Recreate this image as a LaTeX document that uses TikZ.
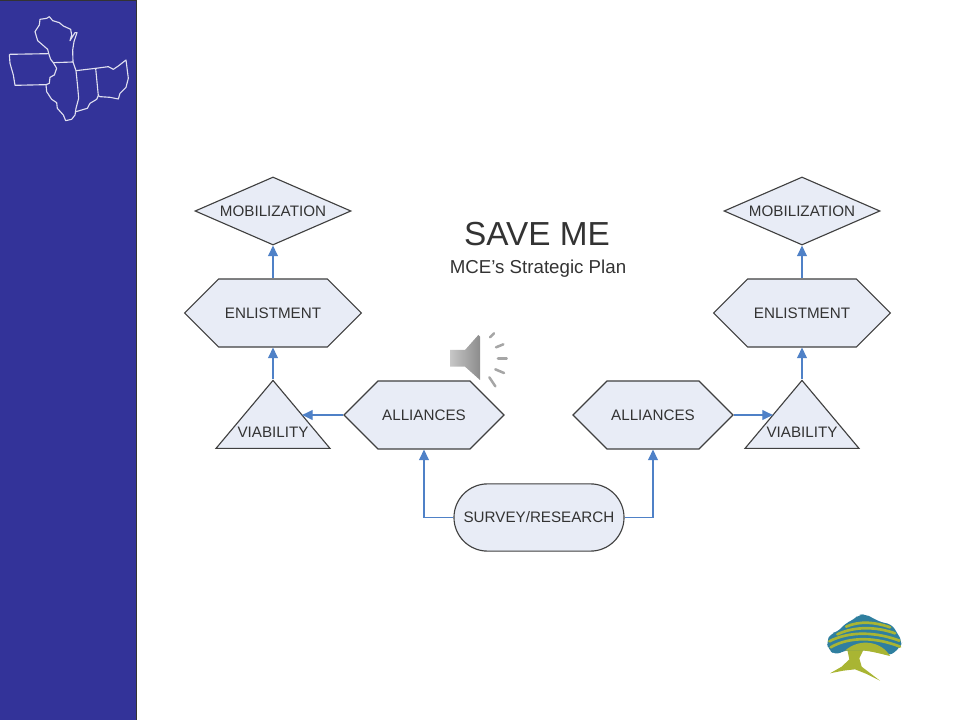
\documentclass[tikz,border=0pt]{standalone}
\usepackage{fontspec}
\setmainfont{Liberation Sans}
\usetikzlibrary{shapes.geometric,shapes.misc,shapes.symbols,arrows.meta}
\definecolor{sidebar}{HTML}{333399}
\definecolor{shapefill}{HTML}{E8ECF6}
\definecolor{shapeline}{HTML}{404040}
\definecolor{linkblue}{HTML}{4F81C7}
\definecolor{treeblue}{HTML}{2F7F9F}
\definecolor{treegreen}{HTML}{A9B533}
\tikzset{
  every node/.style={font=\fontsize{10.8}{12}\selectfont,text=black!80},
  shapebox/.style={draw=shapeline,fill=shapefill,line width=0.8pt,inner sep=0pt},
  mobbox/.style={shapebox,diamond,aspect=2.29,minimum width=3.9cm,minimum height=1.7cm},
  hexbox/.style={shapebox,signal,signal to=east and west,signal pointer angle=90,minimum height=1.7cm},
  tribox/.style={shapebox,isosceles triangle,isosceles triangle stretches,shape border rotate=90,
    anchor=lower side,minimum width=2.85cm,minimum height=1.7cm},
  pillbox/.style={shapebox,rounded rectangle,minimum width=4.25cm,minimum height=1.68cm},
  link/.style={draw=linkblue,line width=0.85pt,-{Triangle[length=7.5pt,width=7pt]}},
  mapline/.style={draw=white!85!sidebar,line width=0.8pt,line join=round},
  tick/.style={draw=black!35,line width=1.8pt,line cap=round},
  treeband/.style={draw=treegreen,line width=1.9pt,line cap=round}
}
\begin{document}
\begin{tikzpicture}[x=0.025cm,y=-0.025cm]
  \useasboundingbox (0,0) rectangle (960,720);
  % sidebar
  \fill[sidebar] (0,0) rectangle (136,720);
  \draw[black!80,line width=0.7pt] (136,0) -- (136,720);
  \draw[black!80,line width=0.7pt] (0,0.3) -- (136,0.3);
  % map
  \begin{scope}[scale=1/3]
    \draw[mapline] (160,188) -- (152,178) -- (146,160) -- (143,148) -- (128,135) -- (113,122) -- (105,95) -- (118,75) -- (120,58) -- (140,55) -- (148,50) -- (158,62) -- (178,68) -- (190,78) -- (212,88) -- (215,105) -- (210,122) -- (225,98) -- (231,98) -- (222,125) -- (218,150) -- (219,186) -- cycle;
    \draw[mapline] (28,163) -- (146,161) (160,188) -- (170,205) -- (163,225) -- (150,232) -- (148,250) -- (138,254) -- (45,256) -- (40,225) -- (30,190) -- (28,163);
    \draw[mapline] (219,186) -- (228,212) -- (233,260) -- (236,295) -- (228,325) -- (225,345) -- (215,358) -- (197,362) -- (190,345) -- (172,325) -- (170,308) -- (155,298) -- (140,275) -- (138,254);
    \draw[mapline] (228,212) -- (287,205) -- (295,287) -- (290,298) -- (270,310) -- (262,325) -- (245,330) -- (228,335);
    \draw[mapline] (287,205) -- (325,200) -- (340,208) -- (355,198) -- (378,180) -- (385,235) -- (378,262) -- (360,280) -- (355,297) -- (330,292) -- (300,290) -- (295,287);
  \end{scope}
  % tree
  \begin{scope}[shift={(810,600)},scale=1/3]
    \fill[treegreen] (112,150) -- (160,150) -- (148,175) -- (155,200) -- (210,242) -- (170,222) -- (135,208) -- (100,212) -- (60,220) -- (95,200) -- (118,178) -- cycle;
    \fill[treeblue,rounded corners=4pt] (50,125) -- (62,100) -- (85,95) -- (105,70) -- (130,60) -- (145,45) -- (165,42) -- (190,55) -- (215,68) -- (245,72) -- (262,100) -- (277,125) -- (270,142) -- (240,168) -- (215,160) -- (180,152) -- (150,150) -- (110,150) -- (75,165) -- (55,148) -- cycle;
    \fill[treegreen] (105,152) .. controls (150,112) and (215,125) .. (240,168) .. controls (205,160) and (160,145) .. (105,152);
    \draw[treeband] (108,80) .. controls (150,62) and (195,66) .. (240,82);
    \draw[treeband] (82,103) .. controls (135,78) and (200,80) .. (255,100);
    \draw[treeband] (58,124) .. controls (120,92) and (200,96) .. (268,122);
    \draw[treeband] (62,142) .. controls (120,108) and (200,112) .. (270,140);
  \end{scope}
  % speaker
  \begin{scope}[shift={(430,320)},scale=1/3]
    \shade[left color=black!22,right color=black!45] (60,90) -- (105,90) -- (145,45) -- (150,50) -- (150,180) -- (105,140) -- (60,140) -- cycle;
    \draw[tick] (180,52) -- (192,40);
    \draw[tick] (198,82) -- (220,73);
    \draw[tick] (204,115) -- (230,115);
    \draw[tick] (196,148) -- (222,159);
    \draw[tick] (178,172) -- (196,199);
  \end{scope}
  % title
  \node (title) at (537,234) {\fontsize{23.7}{26}\selectfont SAVE ME};
  \node (subtitle) at (538,268.5) {\fontsize{13.3}{15}\selectfont MCE’s Strategic Plan};
  % left column
  \node[mobbox] (ml) at (273,211) {MOBILIZATION};
  \node[hexbox,minimum width=4.42cm] (el) at (273,313) {ENLISTMENT};
  \node[tribox,label={[yshift=-0.25cm]center:VIABILITY}] (vl) at (273,449) {};
  \node[hexbox,minimum width=4cm] (al) at (424,415) {ALLIANCES};
  % right column
  \node[mobbox] (mr) at (802,211) {MOBILIZATION};
  \node[hexbox,minimum width=4.42cm] (er) at (802,313) {ENLISTMENT};
  \node[tribox,label={[yshift=-0.25cm]center:VIABILITY}] (vr) at (802,449) {};
  \node[hexbox,minimum width=4cm] (ar) at (653,415) {ALLIANCES};
  % bottom
  \node[pillbox] (sv) at (539,517.5) {SURVEY/RESEARCH};
  % links
  \draw[link] (el.north) -- (ml.south);
  \draw[link] (vl.apex) -- (el.south);
  \draw[link] (al.west) -- (al.west -| vl.right side);
  \draw[link] (sv.west) -| (al.south);
  \draw[link] (er.north) -- (mr.south);
  \draw[link] (vr.apex) -- (er.south);
  \draw[link] (ar.east) -- (ar.east -| vr.left side);
  \draw[link] (sv.east) -| (ar.south);
\end{tikzpicture}
\end{document}
